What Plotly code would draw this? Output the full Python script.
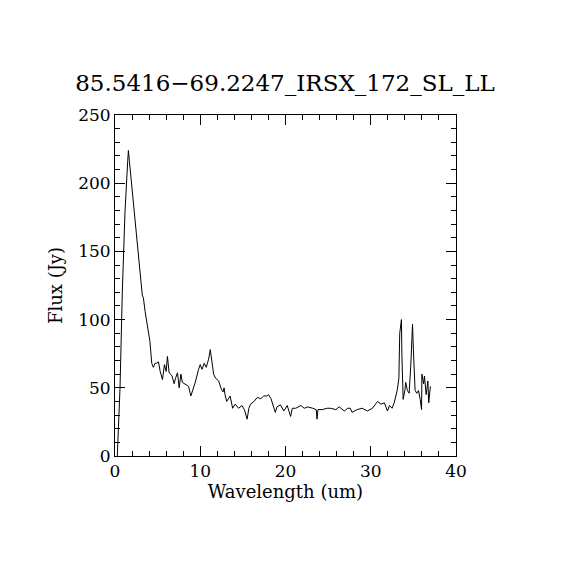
import plotly.graph_objects as go

# spectrum
wavelength = [0.27, 0.47, 0.59, 0.86, 1.18, 1.49, 1.57, 1.69, 2.5, 3.2, 3.33, 3.53, 4.1,
              4.31, 4.5, 4.7, 4.9, 5.1, 5.3, 5.57, 5.8, 6.0, 6.15, 6.35, 6.67, 6.94, 7.1,
              7.33, 7.53, 7.73, 7.9, 8.2, 8.63, 8.9, 9.1, 9.41, 9.8, 10.0, 10.2, 10.47,
              10.7, 10.98, 11.18, 11.37, 11.57, 11.8, 12.16, 12.47, 12.67, 12.8, 12.9,
              13.1, 13.5, 13.8, 14.1, 14.5, 14.9, 15.2, 15.5, 15.7, 15.9, 16.3, 16.7,
              17.1, 17.45, 17.8, 18.0, 18.3, 18.6, 18.8, 19.0, 19.4, 19.8, 20.2, 20.6,
              20.8, 21.2, 21.8, 22.2, 22.6, 23.2, 23.6, 23.7, 23.8, 24.3, 24.9, 25.3,
              25.9, 26.3, 26.9, 27.3, 27.6, 27.8, 28.4, 29.0, 29.6, 30.2, 30.8, 31.2,
              31.6, 31.96, 32.2, 32.5, 32.75, 33.1, 33.3, 33.4, 33.6, 33.65, 33.8, 34.0,
              34.1, 34.3, 34.5, 34.7, 34.8, 34.9, 35.0, 35.2, 35.4, 35.6, 35.8, 35.96,
              36.0, 36.2, 36.3, 36.5, 36.7, 36.8, 37.0]
flux = [0, 28, 50, 121, 180, 216, 224, 216, 166, 118, 116, 106, 84,
        68, 65, 68, 68, 69, 62, 56, 67, 62, 73, 61, 59, 53, 57,
        61, 50, 60, 54, 53, 51, 44, 47.5, 54, 63.5, 67, 63.5, 68,
        65, 71, 78, 69, 60, 57, 55, 49, 47, 50, 45,
        40, 44, 35, 38, 35, 37, 33.6, 27, 35, 38, 40, 43,
        42, 44, 44, 45, 42, 35, 32, 36, 37.5, 33, 37, 29,
        35, 35, 37, 35, 36, 35, 34, 27, 34, 34, 35, 35,
        34, 36, 33, 35, 35, 32, 34, 35, 33, 35, 40, 38,
        39, 33, 37, 35, 39, 48, 57, 90, 100, 75, 41.5, 48,
        54, 48, 46, 67, 90, 96.5, 78, 48, 46, 48, 41.5, 34,
        60, 53, 58.6, 45, 55, 39, 51]

fig = go.Figure(go.Scatter(x=wavelength, y=flux, mode="lines",
                           line=dict(color="black", width=1)))

font = "DejaVu Serif, Liberation Serif, serif"
axis_style = dict(showline=True, linecolor="black", linewidth=1, mirror="allticks",
                  ticks="inside", ticklen=10, tickwidth=1, tickcolor="black",
                  showgrid=False, zeroline=False,
                  tickfont=dict(family=font, size=17, color="black"))

fig.update_xaxes(range=[0, 40], dtick=10,
                 minor=dict(ticks="inside", ticklen=5, dtick=2, tickcolor="black"),
                 title=dict(text="Wavelength (um)", font=dict(family=font, size=18, color="black"),
                            standoff=3),
                 **axis_style)
fig.update_yaxes(range=[0, 250], dtick=50,
                 minor=dict(ticks="inside", ticklen=5, dtick=10, tickcolor="black"),
                 title=dict(text="Flux (Jy)", font=dict(family=font, size=18, color="black"),
                            standoff=10),
                 **axis_style)

# the page sits about 7 px in from the top-left corner, so margins are shifted
fig.update_layout(
    width=570, height=570,
    margin=dict(l=107, r=122, t=107, b=122),
    plot_bgcolor="white", paper_bgcolor="white",
    showlegend=False,
    title=dict(text="85.5416\u221269.2247_IRSX_172_SL_LL", x=(285 - 8) / 570, xanchor="center",
               y=1 - 75 / 570, yanchor="middle",
               font=dict(family=font, size=23, color="black")),
)

fig.write_html("out.html")
